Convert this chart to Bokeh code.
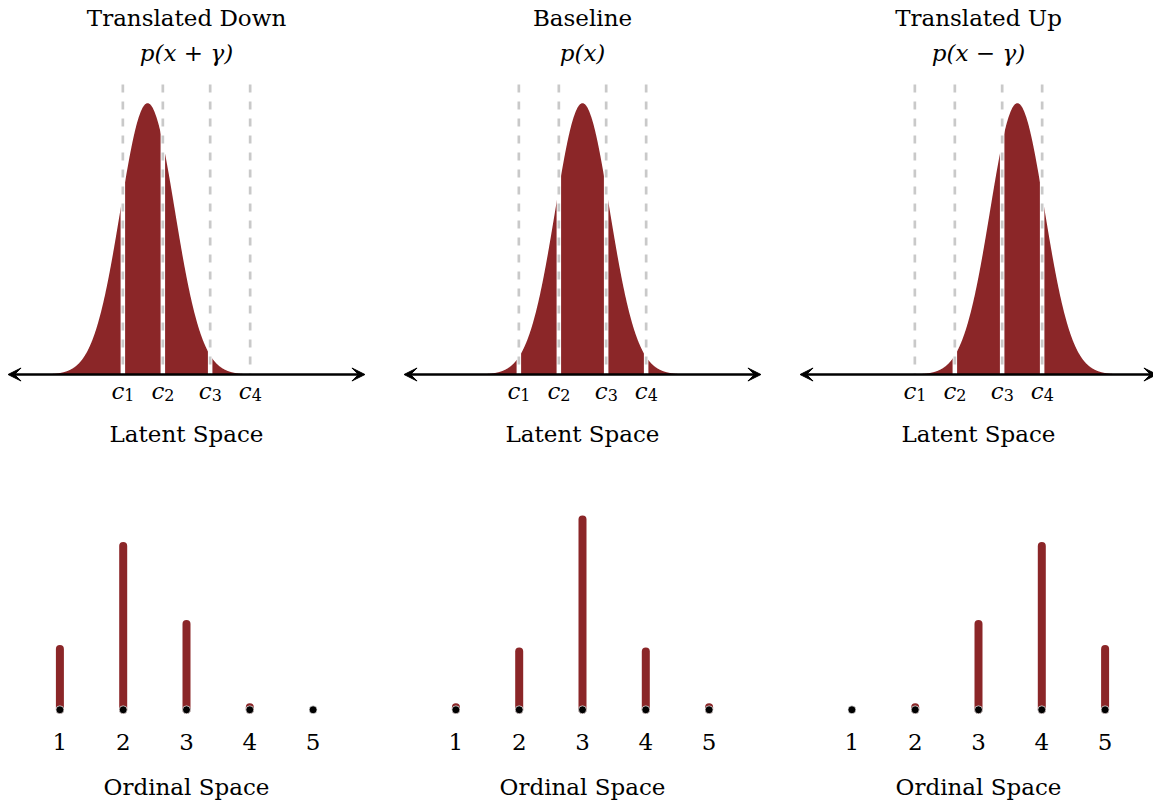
import numpy as np
from bokeh.plotting import figure
from bokeh.layouts import column, row
from bokeh.models import Range1d, Label, Arrow, VeeHead
from bokeh.embed import file_html
from bokeh.resources import INLINE

# ---- data -------------------------------------------------------------
panel_titles = ["Translated Down", "Baseline", "Translated Up"]
density_labels = ["p(x + γ)", "p(x)", "p(x − γ)"]

cutpoints = [-2.34, -0.87, 0.87, 2.34]       # c1..c4 on the latent axis
cut_subscripts = ["1", "2", "3", "4"]
gamma = 1.43                                  # size of the translation
latent_means = [-gamma, 0.0, gamma]           # p(x+γ), p(x), p(x−γ)
latent_sd = 1.0

categories = [1, 2, 3, 4, 5]
category_labels = ["1", "2", "3", "4", "5"]
probs_down = [0.195, 0.525, 0.275, 0.008, 0.0]
probs_base = [0.008, 0.187, 0.61, 0.187, 0.008]
probs_up = [0.0, 0.008, 0.275, 0.525, 0.195]
panel_probs = [probs_down, probs_base, probs_up]

# ---- layout / style ----------------------------------------------------
FIG_LEFT = [0, 384, 780]
FIG_W = [384, 396, 373]
COL_CENTER = [186, 582, 978]
TOP_H, BOT_H = 470, 333
LAT_PX = 27.2        # pixels per latent unit
DENS_PX = 680.0      # pixels per density unit
AXIS_PY = 374.0      # latent axis, px from top of the upper panel
CAT_PX = 63.3        # pixels between ordinal categories
BASE_PY = 239.3      # ordinal baseline, px from top of the lower panel
PROB_PX = 312.0      # pixels per unit probability
ARROW_HALF = 6.56    # half length of the latent axis arrow (latent units)
DASH_TOP = 0.4265    # top of the cutpoint guides (density units)
TXT_ADJ = 9.5        # baseline correction for svg text placement

RED = "#8b2628"
GUIDE = "#c9c9c9"
SERIF = "DejaVu Serif"
FS = "23px"


def bare(fig):
    fig.xaxis.visible = False
    fig.yaxis.visible = False
    fig.xgrid.visible = False
    fig.ygrid.visible = False
    fig.outline_line_color = None
    fig.min_border = 0
    fig.background_fill_color = "white"
    fig.border_fill_color = "white"
    return fig


def text_y(h, py):
    """Screen y (from the bottom) for a baseline py pixels below the top."""
    return h - py + TXT_ADJ


def normal_pdf(x, mu, sd):
    return np.exp(-0.5 * ((x - mu) / sd) ** 2) / (sd * np.sqrt(2 * np.pi))


tops, bottoms = [], []
for i in range(3):
    L, W, C = FIG_LEFT[i], FIG_W[i], COL_CENTER[i]

    # ---------- latent space panel ----------
    t = figure(width=W, height=TOP_H, output_backend="svg", toolbar_location=None,
               x_range=Range1d((L - C) / LAT_PX, (L + W - C) / LAT_PX),
               y_range=Range1d(-(TOP_H - AXIS_PY) / DENS_PX, AXIS_PY / DENS_PX))
    bare(t)

    xs = np.linspace(-6.0, 6.0, 1201)
    t.varea(x=xs, y1=np.zeros_like(xs), y2=normal_pdf(xs, latent_means[i], latent_sd),
            fill_color=RED)

    n = len(cutpoints)
    t.segment(x0=cutpoints, y0=[0] * n, x1=cutpoints, y1=[DASH_TOP] * n,
              line_color="white", line_width=4.5)
    t.segment(x0=cutpoints, y0=[DASH_TOP] * n, x1=cutpoints, y1=[0] * n,
              line_color=GUIDE, line_width=2.7, line_dash="8 9")

    t.add_layout(Arrow(x_start=-ARROW_HALF, y_start=0, x_end=ARROW_HALF, y_end=0,
                       line_color="black", line_width=2.4,
                       start=VeeHead(size=13, fill_color="black", line_color="black"),
                       end=VeeHead(size=13, fill_color="black", line_color="black")))

    t.add_layout(Label(x=0, y=text_y(TOP_H, 27), y_units="screen", text=panel_titles[i],
                       text_align="center", text_baseline="alphabetic",
                       text_font=SERIF, text_font_size=FS, text_color="black"))
    t.add_layout(Label(x=0, y=text_y(TOP_H, 62), y_units="screen", text=density_labels[i],
                       text_align="center", text_baseline="alphabetic",
                       text_font=SERIF, text_font_style="italic",
                       text_font_size=FS, text_color="black"))
    for cp, sub in zip(cutpoints, cut_subscripts):
        t.add_layout(Label(x=cp, y=text_y(TOP_H, 400), y_units="screen", text="c",
                           x_offset=-5, text_align="center", text_baseline="alphabetic",
                           text_font=SERIF, text_font_style="italic",
                           text_font_size=FS, text_color="black"))
        t.add_layout(Label(x=cp, y=text_y(TOP_H, 404), y_units="screen", text=sub,
                           x_offset=1.5, text_align="left", text_baseline="alphabetic",
                           text_font=SERIF, text_font_size="16px", text_color="black"))
    t.add_layout(Label(x=0, y=text_y(TOP_H, 443), y_units="screen", text="Latent Space",
                       text_align="center", text_baseline="alphabetic",
                       text_font=SERIF, text_font_size=FS, text_color="black"))
    tops.append(t)

    # ---------- ordinal space panel ----------
    b = figure(width=W, height=BOT_H, output_backend="svg", toolbar_location=None,
               x_range=Range1d(3 + (L - C) / CAT_PX, 3 + (L + W - C) / CAT_PX),
               y_range=Range1d(-(BOT_H - BASE_PY) / PROB_PX, BASE_PY / PROB_PX))
    bare(b)

    probs = panel_probs[i]
    cx = [c for c, pr in zip(categories, probs) if pr > 0]
    cy = [pr for pr in probs if pr > 0]
    b.segment(x0=cx, y0=[0] * len(cx), x1=cx, y1=cy,
              line_color=RED, line_width=8, line_cap="round")
    b.scatter(x=categories, y=[0] * len(categories), size=8,
              fill_color="black", line_color="white", line_width=0.7)

    for c, lab in zip(categories, category_labels):
        b.add_layout(Label(x=c, y=text_y(BOT_H, 280.7), y_units="screen", text=lab,
                           text_align="center", text_baseline="alphabetic",
                           text_font=SERIF, text_font_size=FS, text_color="black"))
    b.add_layout(Label(x=3, y=text_y(BOT_H, 326), y_units="screen", text="Ordinal Space",
                       text_align="center", text_baseline="alphabetic",
                       text_font=SERIF, text_font_size=FS, text_color="black"))
    bottoms.append(b)

layout = column(row(*tops), row(*bottoms))

with open("out.html", "w") as f:
    f.write(file_html(layout, INLINE))
